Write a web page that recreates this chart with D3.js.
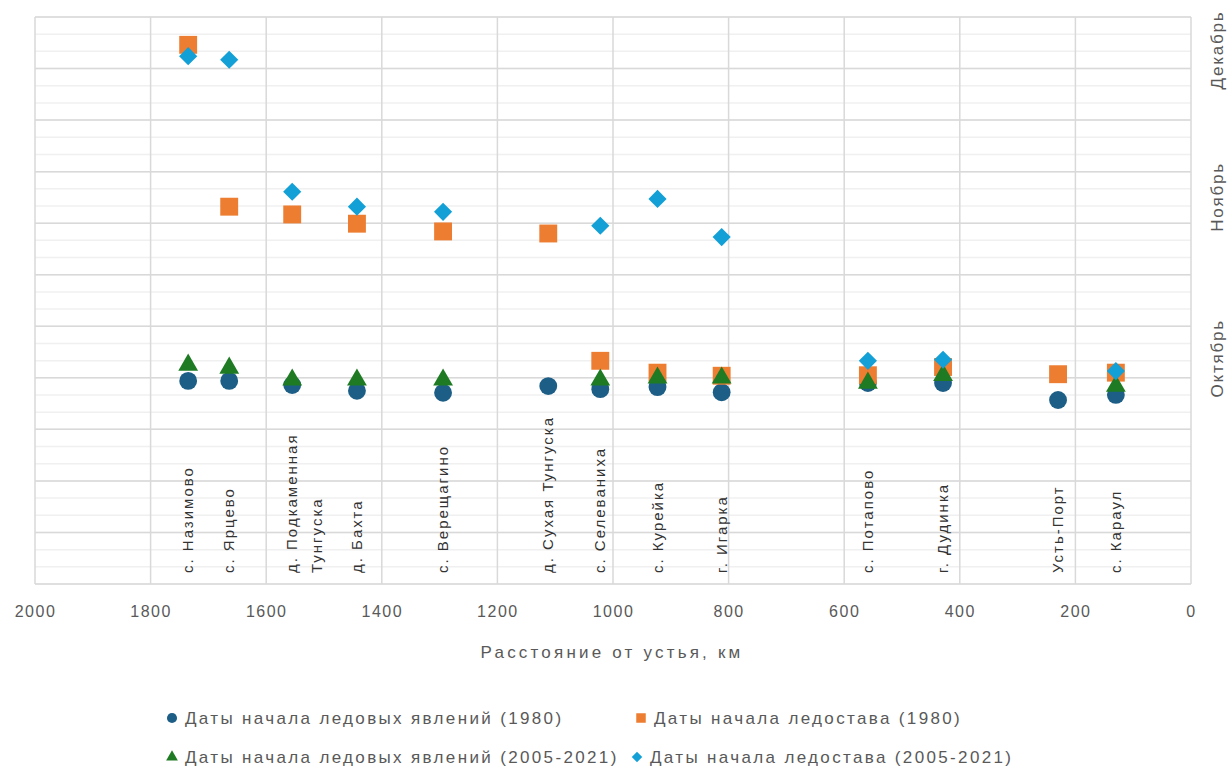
<!DOCTYPE html>
<html>
<head>
<meta charset="utf-8">
<script src="https://cdnjs.cloudflare.com/ajax/libs/d3/7.8.5/d3.min.js"></script>
<style>
  body { margin: 0; background: #fff; }
  text { font-family: "Liberation Sans", Arial, sans-serif; fill: #595959; }
</style>
</head>
<body>
<svg id="chart" width="1229" height="771"></svg>
<script>
// stations, km from the river mouth
var stations = [["с. Назимово"], ["с. Ярцево"], ["д. Подкаменная", "Тунгуска"], ["д. Бахта"],
  ["с. Верещагино"], ["д. Сухая Тунгуска"], ["с. Селеваниха"], ["с. Курейка"], ["г. Игарка"],
  ["с. Потапово"], ["г. Дудинка"], ["Усть-Порт"], ["с. Караул"]];
var km = [1735, 1664, 1555, 1443, 1294, 1112, 1022, 923, 812, 559, 429, 230, 130];

// y values: days (chart units), null = no data
var ice1980 = [39.4, 39.4, 38.6, 37.5, 37.1, 38.4, 37.8, 38.2, 37.2, 39.0, 39.0, 35.7, 36.7];
var freeze1980 = [104.6, 73.2, 71.7, 69.9, 68.4, 68.0, 43.3, 41.0, 40.4, 40.5, 42.1, 40.7, 41.0];
var ice2005 = [42.5, 41.9, 39.6, 39.6, 39.6, null, 39.6, 40.0, 40.0, 39.0, 40.5, null, 38.4];
var freeze2005 = [102.4, 101.7, 76.1, 73.2, 72.2, null, 69.5, 74.7, 67.3, 43.3, 43.5, null, 41.3];

var seriesNames = ["Даты начала ледовых явлений (1980)", "Даты начала ледостава (1980)",
  "Даты начала ледовых явлений (2005-2021)", "Даты начала ледостава (2005-2021)"];
var months = ["Октябрь", "Ноябрь", "Декабрь"];
var monthPos = [43.8, 75.1, 103.6];
var xTicks = [2000, 1800, 1600, 1400, 1200, 1000, 800, 600, 400, 200, 0];

var colors = ["#1c5e86", "#ed7d31", "#1e7b23", "#12a0d7"];
var symbols = [
  d3.symbol().type(d3.symbolCircle).size(250),
  d3.symbol().type(d3.symbolSquare).size(320),
  d3.symbol().type(d3.symbolTriangle).size(170),
  d3.symbol().type(d3.symbolSquare).size(165)
];
var rotations = [0, 0, 0, 45];

var svg = d3.select("#chart");
var x = d3.scaleLinear().domain([2000, 0]).range([35, 1191]);
var y = d3.scaleLinear().domain([0, 110]).range([584, 17]);

// gridlines
var minor = d3.range(0, 111, 10 / 3);
svg.append("g").selectAll("line").data(minor).enter().append("line")
  .attr("x1", x(2000)).attr("x2", x(0))
  .attr("y1", function(d) { return y(d); }).attr("y2", function(d) { return y(d); })
  .style("stroke", "#f0f0f0").style("stroke-width", "1.5px");
svg.append("g").selectAll("line").data(d3.range(0, 111, 10)).enter().append("line")
  .attr("x1", x(2000)).attr("x2", x(0))
  .attr("y1", function(d) { return y(d); }).attr("y2", function(d) { return y(d); })
  .style("stroke", "#d9d9d9").style("stroke-width", "1.5px");
svg.append("g").selectAll("line").data(xTicks).enter().append("line")
  .attr("x1", function(d) { return x(d); }).attr("x2", function(d) { return x(d); })
  .attr("y1", y(110)).attr("y2", y(0))
  .style("stroke", "#d9d9d9").style("stroke-width", "1.5px");

// x axis
var xAxis = svg.append("g").attr("transform", "translate(0," + y(0) + ")")
  .call(d3.axisBottom(x).tickValues(xTicks).tickFormat(d3.format("d")).tickSize(0).tickPadding(22));
xAxis.select(".domain").remove();
xAxis.selectAll("text").style("font-size", "16px").style("fill", "#595959")
  .style("letter-spacing", "1.5px")
  .style("font-family", "'Liberation Sans', Arial, sans-serif");

svg.append("text").text("Расстояние от устья, км")
  .attr("x", 612).attr("y", 658).attr("text-anchor", "middle")
  .style("font-size", "17px").style("letter-spacing", "3.2px");

// month labels on the right
svg.append("g").selectAll("text").data(months).enter().append("text")
  .text(function(d) { return d; })
  .attr("transform", function(d, i) { return "translate(1217," + y(monthPos[i]) + ") rotate(-90)"; })
  .attr("text-anchor", "middle").attr("dy", "0.35em")
  .style("font-size", "17px").style("letter-spacing", "1.8px");

// station labels
var lab = svg.append("g").selectAll("text").data(stations).enter().append("text")
  .attr("transform", function(d, i) { return "translate(" + (x(km[i]) + 5) + ",573) rotate(-90)"; })
  .attr("text-anchor", "start")
  .style("font-size", "15px").style("letter-spacing", "2px").style("fill", "#333");
lab.selectAll("tspan").data(function(d) { return d; }).enter().append("tspan")
  .attr("x", 0).attr("dy", function(d, j) { return j === 0 ? 0 : "1.65em"; })
  .text(function(d) { return d; });

// markers
var allSeries = [ice1980, freeze1980, ice2005, freeze2005];
allSeries.forEach(function(vals, s) {
  svg.append("g").selectAll("path")
    .data(vals.map(function(v, i) { return {v: v, k: km[i]}; }).filter(function(d) { return d.v !== null; }))
    .enter().append("path")
    .attr("d", symbols[s])
    .attr("transform", function(d) {
      return "translate(" + x(d.k) + "," + y(d.v) + ") rotate(" + rotations[s] + ")";
    })
    .style("fill", colors[s]);
});

// legend
var legendPos = [[172, 718], [641, 718], [172, 757], [637, 757]];
var legSym = [
  d3.symbol().type(d3.symbolCircle).size(80),
  d3.symbol().type(d3.symbolSquare).size(90),
  d3.symbol().type(d3.symbolTriangle).size(60),
  d3.symbol().type(d3.symbolSquare).size(55)
];
seriesNames.forEach(function(name, s) {
  var g = svg.append("g").attr("transform", "translate(" + legendPos[s][0] + "," + legendPos[s][1] + ")");
  g.append("path").attr("d", legSym[s]).attr("transform", "rotate(" + rotations[s] + ")")
    .style("fill", colors[s]);
  g.append("text").text(name).attr("x", 13).attr("dy", "0.35em")
    .style("font-size", "17px").style("letter-spacing", "2.35px");
});
</script>
</body>
</html>
